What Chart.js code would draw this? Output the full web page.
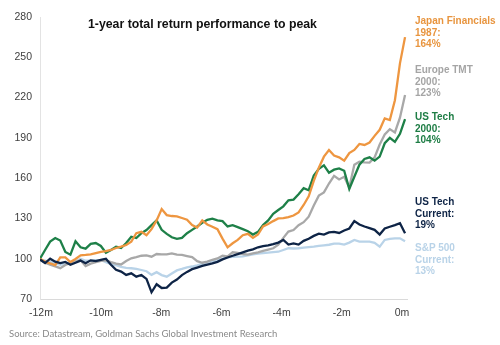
<!DOCTYPE html>
<html>
<head>
<meta charset="utf-8">
<script src="https://cdn.jsdelivr.net/npm/chart.js@4/dist/chart.umd.min.js"></script>
<style>
  html, body { margin: 0; padding: 0; background: #ffffff; }
  #wrap { position: relative; width: 500px; height: 345px; overflow: hidden; font-family: "Liberation Sans", Arial, sans-serif; }
  #c { position: absolute; left: 0; top: 0; }
  .title { position: absolute; left: 88px; top: 17px; font-weight: bold; font-size: 12.3px; color: #111; white-space: nowrap; letter-spacing: 0; }
  .lab { position: absolute; left: 415px; font-weight: bold; font-size: 10px; line-height: 11.5px; white-space: nowrap; }
  .src { position: absolute; left: 9px; top: 328px; font-family: Lato, "Open Sans", sans-serif; font-size: 9.5px; color: #8a8a8a; white-space: nowrap; }
</style>
</head>
<body>
<div id="wrap">
  <canvas id="c" width="500" height="345"></canvas>
  <div class="title">1-year total return performance to peak</div>
  <div class="lab" style="top:15px;color:#E8953F">Japan Financials<br>1987:<br>164%</div>
  <div class="lab" style="top:64px;color:#A5A5A5">Europe TMT<br>2000:<br>123%</div>
  <div class="lab" style="top:111px;color:#1E7D45">US Tech<br>2000:<br>104%</div>
  <div class="lab" style="top:196px;color:#0E2446">US Tech<br>Current:<br>19%</div>
  <div class="lab" style="top:242px;color:#B9D3E8">S&amp;P 500<br>Current:<br>13%</div>
  <div class="src">Source: Datastream, Goldman Sachs Global Investment Research</div>
</div>
<script>
// x grid in months before peak (evenly spaced sampling)
const months = Array.from({ length: 73 }, (_, i) => +(-12.033 + i * 0.16855).toFixed(3));
const monthTicks = [-12, -10, -8, -6, -4, -2, 0];
const valueTicks = [70, 100, 130, 160, 190, 220, 250, 280];

const japanFinancials1987 = [100,97.8,96.5,95.3,101,101,97.5,99.8,102.5,102.8,103.2,104.2,105.1,105.6,106.5,108,109,110.2,112.7,119,120,117.5,122,128.5,137,132.5,131.8,131.5,130.3,129,125,123.2,128.5,125.5,123.8,122,115,108.5,111.5,114,117.5,118.5,115.5,118,124,125.8,128,130,130.3,131,132.2,134.5,140,146.5,158,167.8,176,181,176.8,175.5,173,178.7,181,185.5,184.7,186.5,191.5,196,204.5,203.3,218,245.5,265];
const europeTMT2000 = [99.4,97,95.6,94.3,93,95.3,96.8,97.9,98.9,94.5,96.3,97.4,98.4,98.8,97.5,96.3,95.7,98.3,100.3,101.2,102.2,102.5,101.5,103.5,103.3,103.2,104,103,102.8,102,101.2,98.2,97,97.8,99.2,100.2,102.3,101.8,104.8,104.4,103.5,103,104,104.8,105.8,106.8,107.8,110.5,115.5,120.2,121.4,125,127.2,131.3,139.7,147,149.4,156,161.7,159,161,153,170,172.2,171.8,171.6,175.5,185,192.5,196.5,194,205,222];
const usTech2000 = [100,106.5,112.7,115.4,113.5,105,103,113,108.5,107.5,111,111.7,109.5,104.5,106.5,109,108,111.7,116.4,115.4,119,121.4,125,128.5,121.5,118.5,116,114.8,115.5,119,121.5,124,126.8,129,129.8,128.5,128,124,125,123.5,122,120.5,118,120,125,128.5,133.5,136.3,139,143.5,144,148,152.5,151,162,167,169.5,164,166.3,167.2,165.5,152,161,170,174.3,175.5,173,176,186,190,187,193,204];
const usTechCurrent = [99.4,96.8,100,97.8,96.8,97.6,95.5,97,98.6,96.6,98.8,98.2,99.2,100,95.5,91.8,90.4,87.9,89.1,86.6,87.9,85,75,81,78.2,78.5,82.2,84.5,87.8,90.2,92.2,93.4,94.6,95.6,96.6,97.7,99.5,100.9,102.2,103.4,104.7,106,107,108.5,109.4,110,110.8,112,114,110.5,111.4,110.5,113.3,114.9,117,118.7,118,119.6,120,119.2,121,122.5,128,125.5,124,122.8,121.5,118,122.5,123.8,125,126.4,119];
const sp500Current = [99.4,98.6,97.6,96.6,95.5,96,96.9,98,100,98.5,98.6,99,99,97.4,96,95.2,94,93.2,92.9,92.5,91.6,90.7,88,90,87.8,86.6,89,91.3,92.4,93.6,94.2,95.1,96.2,97.2,98,98.9,100,101,101.3,101.5,101.8,102.5,103.2,103.8,104.2,104.6,104.9,105.2,106.5,107.8,107.6,107.8,108.2,108.6,109,109.6,110,110.4,111.2,111.3,110.5,112,114,112.8,112.7,112.7,111.8,109,114,114.8,115.2,115.2,113];

const pts = arr => months.map((m, i) => ({ x: m, y: arr[i] }));
const ds = (label, arr, color) => ({ label, data: pts(arr), borderColor: color, borderWidth: 2.3, pointRadius: 0, tension: 0, fill: false });

const tickFont = { family: '"Liberation Sans", Arial, sans-serif', size: 10.5 };

new Chart(document.getElementById('c'), {
  type: 'line',
  data: {
    datasets: [
      ds('US Tech Current', usTechCurrent, '#0E2446'),
      ds('Japan Financials 1987', japanFinancials1987, '#EE9640'),
      ds('US Tech 2000', usTech2000, '#1E8048'),
      ds('Europe TMT 2000', europeTMT2000, '#A8A8A8'),
      ds('S&P 500 Current', sp500Current, '#B9D3E8')
    ]
  },
  options: {
    responsive: false,
    animation: false,
    devicePixelRatio: 1,
    layout: { padding: { left: 0, right: 93, top: 17, bottom: 16 } },
    plugins: { legend: { display: false }, tooltip: { enabled: false } },
    scales: {
      x: {
        type: 'linear', min: -12.033, max: 0.168,
        afterBuildTicks: s => { s.ticks = monthTicks.map(v => ({ value: v })); },
        afterFit: s => { s.height = 30; },
        ticks: { color: '#404040', font: tickFont, padding: 8, maxRotation: 0, autoSkip: false, callback: v => v + 'm' },
        grid: { display: true, color: 'rgba(0,0,0,0)', drawTicks: false },
        border: { display: true, color: '#DADADA', width: 1 }
      },
      y: {
        min: 70, max: 280,
        afterBuildTicks: s => { s.ticks = valueTicks.map(v => ({ value: v })); },
        afterFit: s => { s.width = 40; },
        ticks: { color: '#404040', font: tickFont, padding: 8 },
        grid: { display: true, color: 'rgba(0,0,0,0)', drawTicks: false },
        border: { display: true, color: '#E3E3E3', width: 1 }
      }
    }
  }
});
</script>
</body>
</html>
